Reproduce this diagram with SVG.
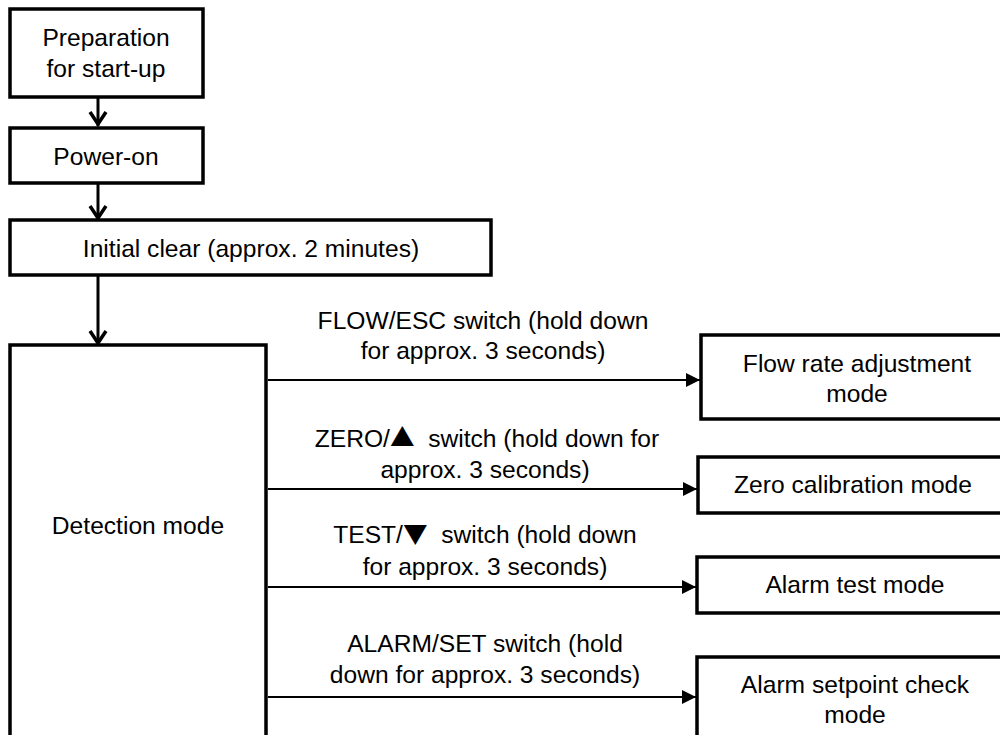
<svg xmlns="http://www.w3.org/2000/svg" width="1000" height="735" viewBox="0 0 1000 735">
<style>
.box{fill:#fff;stroke:#000;stroke-width:3.5}
.t{font-family:"Liberation Sans",Arial,sans-serif;font-size:24.6px;fill:#000;text-anchor:middle}
.sym{font-family:"Noto Sans CJK JP","DejaVu Sans",sans-serif}
.down{stroke:#000;stroke-width:3;fill:none}
.chev{stroke:#000;stroke-width:3.5;fill:none;stroke-linejoin:miter}
.h{stroke:#000;stroke-width:2;fill:none}
</style>
<defs>
<marker id="tri" markerUnits="userSpaceOnUse" markerWidth="14" markerHeight="14" refX="14" refY="7" orient="auto">
<path d="M0,0 L14,7 L0,14 Z" fill="#000"/>
</marker>
</defs>
<rect width="1000" height="735" fill="#fff"/>
<g id="n-prep"><rect class="box" x="10" y="9" width="193" height="88"/><text class="t" x="106" y="46">Preparation</text><text class="t" x="106" y="77">for start-up</text></g>
<g id="n-power"><rect class="box" x="10" y="128" width="193" height="55"/><text class="t" x="106" y="165">Power-on</text></g>
<g id="n-clear"><rect class="box" x="10" y="220" width="481" height="55"/><text class="t" x="251" y="257">Initial clear (approx. 2 minutes)</text></g>
<g id="n-detect"><rect class="box" x="10" y="345" width="256" height="420"/><text class="t" x="138" y="534">Detection mode</text></g>
<g id="n-flow"><rect class="box" x="701" y="335" width="320" height="84"/><text class="t" x="857" y="372">Flow rate adjustment</text><text class="t" x="857" y="402">mode</text></g>
<g id="n-zero"><rect class="box" x="698" y="457" width="320" height="56"/><text class="t" x="853" y="493">Zero calibration mode</text></g>
<g id="n-test"><rect class="box" x="697" y="557" width="320" height="56"/><text class="t" x="855" y="593">Alarm test mode</text></g>
<g id="n-setpoint"><rect class="box" x="697" y="657" width="320" height="120"/><text class="t" x="855" y="693">Alarm setpoint check</text><text class="t" x="855" y="723">mode</text></g>
<g id="connectors">
<line class="down" x1="98" y1="97" x2="98" y2="126"/><polyline class="chev" points="90,112 98,124 106,112"/>
<line class="down" x1="98" y1="183" x2="98" y2="218"/><polyline class="chev" points="90,206 98,218 106,206"/>
<line class="down" x1="98" y1="275" x2="98" y2="343"/><polyline class="chev" points="90,331 98,343 106,331"/>
<line class="h" x1="268" y1="380" x2="700" y2="380" marker-end="url(#tri)"/>
<line class="h" x1="268" y1="489" x2="697" y2="489" marker-end="url(#tri)"/>
<line class="h" x1="268" y1="587" x2="696" y2="587" marker-end="url(#tri)"/>
<line class="h" x1="268" y1="697" x2="696" y2="697" marker-end="url(#tri)"/>
<text class="t" x="483" y="329">FLOW/ESC switch (hold down</text>
<text class="t" x="483" y="359">for approx. 3 seconds)</text>
<text class="t" x="487" y="447">ZERO/<tspan class="sym">▲</tspan>&#160; switch (hold down for</text>
<text class="t" x="485" y="478">approx. 3 seconds)</text>
<text class="t" x="485" y="543">TEST/<tspan class="sym">▼</tspan>&#160; switch (hold down</text>
<text class="t" x="485" y="575">for approx. 3 seconds)</text>
<text class="t" x="485" y="652">ALARM/SET switch (hold</text>
<text class="t" x="485" y="683">down for approx. 3 seconds)</text>
</g>
</svg>
